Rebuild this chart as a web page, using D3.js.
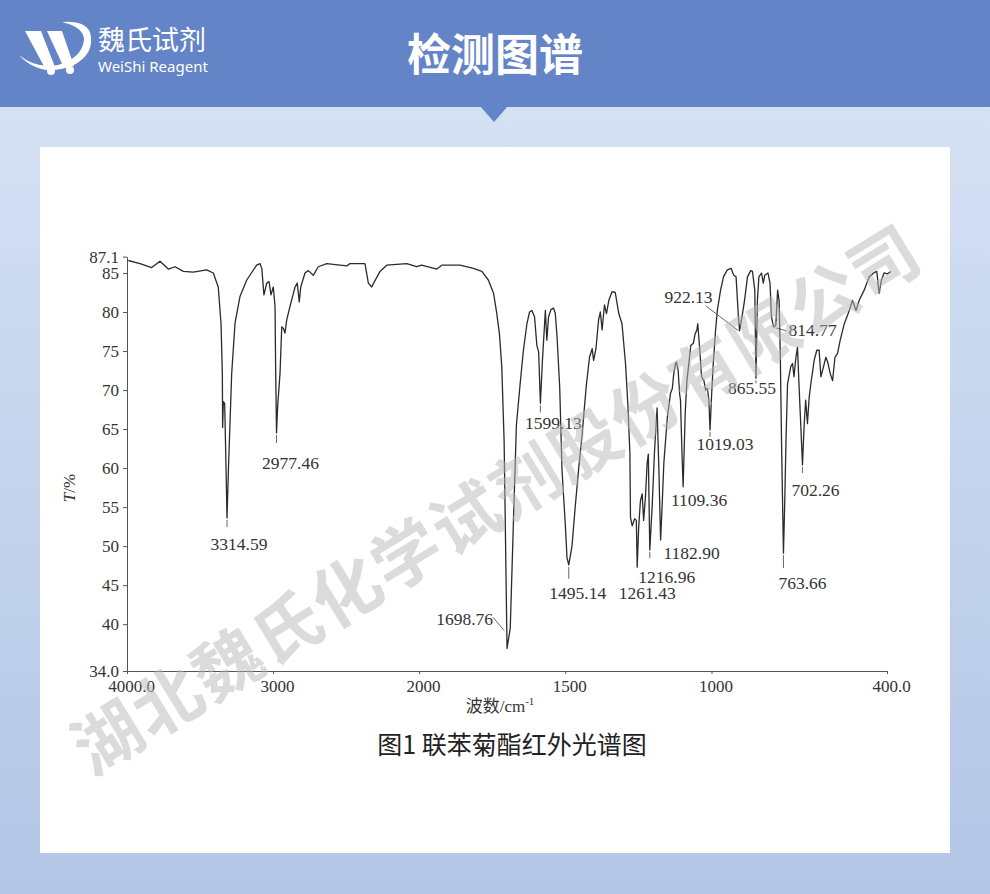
<!DOCTYPE html>
<html><head><meta charset="utf-8">
<script src="https://cdn.jsdelivr.net/npm/d3@7"></script>
<style>
html,body{margin:0;padding:0;background:#fff;}
svg{display:block;}
</style></head>
<body>
<svg id="c" width="990" height="894"></svg>
<script>
// ---------- data ----------
const wavenumbers = [3991,3911,3831,3774,3717,3671,3614,3546,3454,3409,3375,3356,3347,3345,3340,3331,3325,3315,3305,3283,3260,3226,3180,3112,3089,3077,3062,3043,3027,3014,2998,2986,2982,2976,2968,2952,2940,2929,2918,2906,2884,2849,2834,2820,2810,2781,2758,2724,2690,2632,2495,2473,2370,2347,2324,2308,2267,2221,2084,2016,1991,1939,1922,1860,1814,1785,1763,1745,1734,1725,1717,1709,1699,1688,1677,1667,1654,1643,1631,1622,1614,1605,1597,1591,1585,1578,1568,1563,1557,1549,1540,1534,1528,1519,1511,1500,1494,1488,1477,1466,1454,1443,1428,1417,1408,1403,1395,1386,1380,1374,1366,1359,1351,1340,1329,1317,1306,1294,1286,1279,1277,1271,1263,1257,1254,1249,1243,1237,1232,1226,1220,1216,1211,1203,1195,1186,1180,1174,1169,1163,1151,1140,1134,1129,1123,1120,1114,1109,1106,1101,1097,1090,1084,1075,1071,1062,1056,1050,1047,1040,1034,1026,1020,1014,1009,1005,1000,994,986,980,969,959,946,933,924,916,908,904,894,887,877,866,860,852,848,843,838,829,823,818,807,800,795,788,780,774,769,765,760,754,750,745,740,729,723,718,712,706,701,695,689,683,678,672,666,660,649,640,632,626,617,609,603,594,586,578,569,560,546,529,518,506,495,478,461,446,435,427,419,410,398,387];
const transmittance = [86.6,86.2,85.7,86.5,85.5,85.8,85.2,85.1,85.4,85.0,83.2,78.5,72.1,65.2,68.5,68.3,63,53.6,60,72.1,78.6,82.0,84.1,86.0,86.2,85.6,82.2,83.7,83.9,82.2,83.2,80.7,73,64.5,68,72.1,78.1,77.9,77.3,79.0,80.7,83.2,83.7,81.3,83.2,85.0,85.3,84.7,85.8,86.2,85.9,86.2,86.2,83.7,83.2,83.8,85.2,86.0,86.2,85.8,86.0,85.5,86.0,86.0,85.6,85.2,84.1,82.4,79.8,77.2,73.0,63.5,36.9,39.5,53.3,65.5,70.9,75.1,78.5,80.0,80.2,79.4,75.7,74.9,68.3,73.8,80.2,76.4,79.4,80.3,80.5,79.8,76.8,70.4,59.7,52.9,48.5,47.6,50,55,60,64,70.6,74.2,75.3,73.8,75.3,79.0,80.0,77.7,80.9,79.8,81.5,82.6,82.5,79.8,78.5,73.4,68.2,61.9,53.7,52.6,53.5,53.3,47.3,52.4,55.8,56.7,53.3,56.2,60.6,61.8,49.5,55.0,62,67.7,60,50.8,55,60.6,66.5,69.6,70.2,72.1,73.4,73.6,72.5,69.5,68.7,62,57.6,67.0,71.2,74.2,75.7,76.0,77.2,77.7,78.5,75.1,71.7,71.2,70.0,70.2,68.7,64.9,69.1,73.4,77.7,80.2,82.8,84.5,85.4,85.6,84.7,84.5,79.4,77.6,79.8,81.5,84.5,85.3,85.2,82.8,71.5,81.5,84.5,85.0,83.7,84.7,85.0,83.7,79.4,78.1,78.3,82.8,81.5,75,62,49.1,55,64,70.8,73.0,73.4,71.7,74.0,75.5,70.8,65.7,60.4,65.7,68.7,65.7,69.1,70.9,73.8,75.1,75.1,71.7,73.0,74.2,73.6,72.1,71.2,74.2,74.7,76.4,78.5,80.2,81.5,80.2,81.5,82.8,84.5,85.0,85.2,82.4,84.1,85.0,84.9,85.2];

const yTickValues = [34,40,45,50,55,60,65,70,75,80,85,87.1];
const yTickLabels = ["34.0","40","45","50","55","60","65","70","75","80","85","87.1"];
const xTickValues = [4000,3000,2000,1500,1000,400];
const xTickLabels = ["4000.0","3000","2000","1500","1000","400.0"];

const peakLabels = ["3314.59","2977.46","1698.76","1599.13","1495.14","1261.43","1216.96","1182.90","1109.36","1019.03","922.13","865.55","814.77","763.66","702.26"];
const peakWn = [3315,2976,1699,1585,1488,1254,1211,1174,1097,1005,904,848,788,754,689];
const peakT  = [53.6,64.5,36.9,68.3,47.6,47.3,49.5,50.8,57.6,64.9,77.6,71.5,78.1,49.1,60.4];

// ---------- layout (positions / styles) ----------
// [leader x1,y1,x2,y2, text dx,dy, anchor] relative to the peak point
const peakLayout = [
  [0,2,0,9, 12,32,"middle"],
  [0,2,0,10, 14,36,"middle"],
  [-3,-18,-14,-31, -14,-23,"end"],
  [0,2,0,9, 13,26,"middle"],
  [0,2,0,14, 9,34,"middle"],
  [0,0,0,0, 10,32,"middle"],
  [0,2,0,8, 17,33,"middle"],
  [0,0,0,0, 31,19,"middle"],
  [0,0,0,0, 16,19,"middle"],
  [0,2,0,7, 15,20,"middle"],
  [-1,0,-34,-25, -27,-28,"end"],
  [0,2,0,5, -4,16,"middle"],
  [2,1,13,4, 15,9,"start"],
  [0,2,0,15, 19,36,"middle"],
  [0,2,0,8, 13,31,"middle"]
];

const SERIF = "'Liberation Serif','Times New Roman',serif";
const CJK = "'Noto Sans CJK SC','Noto Sans CJK JP',sans-serif";

const svg = d3.select("#c");

// background
const defs = svg.append("defs");
const grad = defs.append("linearGradient").attr("id","bg").attr("x1",0).attr("y1",0).attr("x2",0).attr("y2",1);
grad.append("stop").attr("offset","0%").attr("stop-color","#d9e4f5");
grad.append("stop").attr("offset","100%").attr("stop-color","#b3c6e6");
svg.append("rect").attr("x",0).attr("y",0).attr("width",990).attr("height",894).attr("fill","url(#bg)");
svg.append("rect").attr("x",0).attr("y",0).attr("width",990).attr("height",107).attr("fill","#6384c6");
svg.append("path").attr("d","M480,106 L508,106 L494,122 Z").attr("fill","#6384c6");

// logo
const logo = svg.append("g").attr("fill","#fff");
logo.append("path").attr("d","M25,31 L41,31 L55,67 L46,70 Z");
logo.append("path").attr("d","M47,31 L62,31 L74,66 L64,68 Z");
logo.append("circle").attr("cx",51).attr("cy",71).attr("r",4);
logo.append("circle").attr("cx",70).attr("cy",70).attr("r",4);
logo.append("path").attr("d","M19,55 Q40,78 72,66 Q96,54 90,32 Q84,20 62,22 Q84,27 84,40 Q82,58 58,65 Q36,69 19,55 Z");
logo.append("text").attr("x",98).attr("y",50).attr("font-family",CJK).attr("font-size",27).attr("font-weight",400).text("魏氏试剂");
logo.append("text").attr("x",98).attr("y",72).attr("font-family","'Noto Sans',sans-serif").attr("font-size",15).text("WeiShi Reagent");

// title
svg.append("text").attr("x",495).attr("y",71).attr("text-anchor","middle").attr("fill","#fff")
  .attr("font-family",CJK).attr("font-weight","bold").attr("font-size",44).text("检测图谱");

// white panel
svg.append("rect").attr("x",40).attr("y",147).attr("width",910).attr("height",706).attr("fill","#fff");

// scales
const x = d3.scaleLinear().domain([4000,2000,400]).range([127,419,887]);
const y = d3.scaleLinear().domain([34,87.1]).range([671,256.6]);

const ink = "#333";

// axes
const yAxis = d3.axisLeft(y).tickValues(yTickValues).tickFormat((d,i)=>yTickLabels[i]).tickSizeInner(4).tickSizeOuter(0).tickPadding(4);
const gy = svg.append("g").attr("transform","translate(127,0)").call(yAxis);
gy.selectAll("text").attr("font-family",SERIF).attr("font-size",17).attr("fill",ink);
gy.selectAll("line,path").attr("stroke","#555");

const xAxis = d3.axisBottom(x).tickValues(xTickValues).tickFormat((d,i)=>xTickLabels[i]).tickSizeInner(3).tickSizeOuter(0).tickPadding(6);
const gx = svg.append("g").attr("transform","translate(0,671)").call(xAxis);
gx.selectAll("text").attr("font-family",SERIF).attr("font-size",17).attr("fill",ink).attr("dx",4);
gx.selectAll("line,path").attr("stroke","#555");

// axis titles
const yt = svg.append("text").attr("transform","translate(75,488) rotate(-90)").attr("text-anchor","middle")
  .attr("font-family",SERIF).attr("font-size",17).attr("fill",ink);
yt.append("tspan").attr("font-style","italic").text("T");
yt.append("tspan").text("/%");

const xt = svg.append("text").attr("x",500).attr("y",712).attr("text-anchor","middle").attr("font-size",17).attr("fill",ink);
xt.append("tspan").attr("font-family",CJK).text("波数");
xt.append("tspan").attr("font-family",SERIF).text("/cm");
xt.append("tspan").attr("font-family",SERIF).attr("font-size",11).attr("dy",-7).text("-1");

svg.append("text").attr("x",512).attr("y",754).attr("text-anchor","middle").attr("font-family",CJK)
  .attr("font-size",25).attr("fill","#222").text("图1  联苯菊酯红外光谱图");

// spectrum
const pts = wavenumbers.map((w,i)=>[w,transmittance[i]]);
svg.append("path").datum(pts).attr("fill","none").attr("stroke","#2b2b2b").attr("stroke-width",1.3)
  .attr("stroke-linejoin","round")
  .attr("d", d3.line().x(d=>x(d[0])).y(d=>y(d[1])));

// peak labels
const pg = svg.append("g");
peakLabels.forEach((t,i)=>{
  const px = x(peakWn[i]), py = y(peakT[i]);
  const L = peakLayout[i];
  if (L[0]!==L[2] || L[1]!==L[3]) {
    pg.append("line").attr("x1",px+L[0]).attr("y1",py+L[1]).attr("x2",px+L[2]).attr("y2",py+L[3])
      .attr("stroke","#555").attr("stroke-width",0.9);
  }
  pg.append("text").attr("x",px+L[4]).attr("y",py+L[5]).attr("text-anchor",L[6])
    .attr("font-family",SERIF).attr("font-size",17.5).attr("fill",ink).text(t);
});

// watermark
svg.append("text").attr("transform","translate(500,505) rotate(-31.5)").attr("text-anchor","middle")
  .attr("dominant-baseline","middle")
  .attr("font-family",CJK).attr("font-weight","bold").attr("font-size",68).attr("letter-spacing",2)
  .attr("fill","#b8b8b8").attr("opacity",0.5).text("湖北魏氏化学试剂股份有限公司");
</script>
</body></html>
